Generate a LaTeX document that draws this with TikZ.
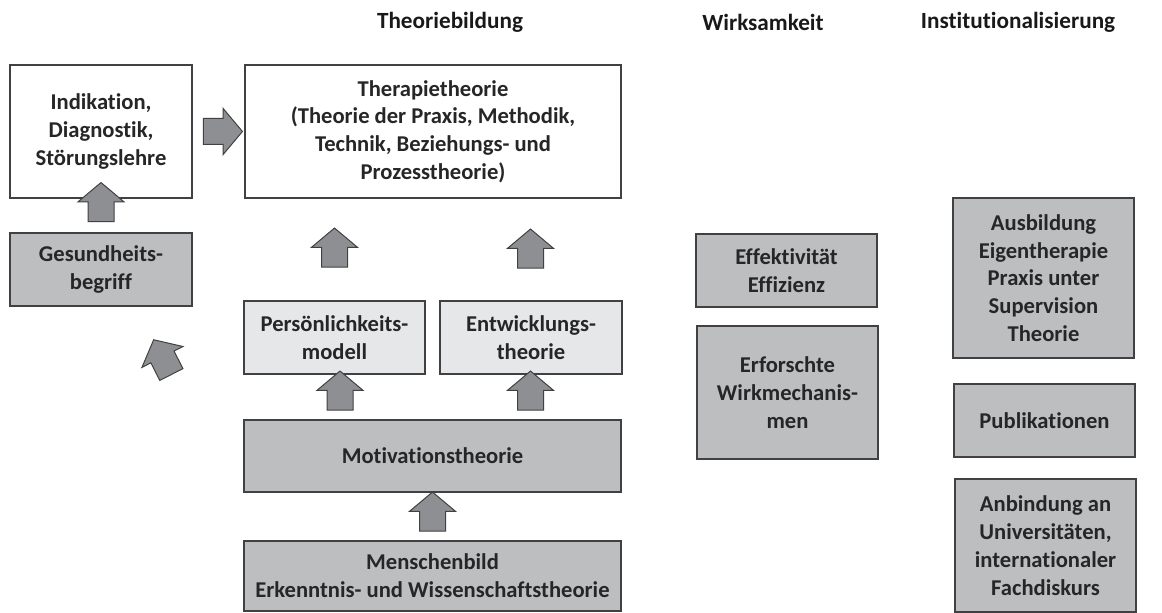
\documentclass[tikz,border=0pt]{standalone}
\usepackage{fontspec}
\setmainfont{Carlito}[Ligatures=NoCommon]
\usetikzlibrary{shapes.arrows}
\definecolor{boxdark}{RGB}{189,190,192}
\definecolor{boxlight}{RGB}{230,231,232}
\definecolor{arrowfill}{RGB}{142,143,146}
\definecolor{rim}{RGB}{65,64,66}
\begin{document}
\begin{tikzpicture}[x=0.5pt,y=-0.5pt]
	\tikzset{
		box/.style={draw=rim, line width=0.6pt, align=center, inner sep=0pt,
			font=\fontsize{11.3}{13.9}\selectfont\bfseries, text=black!85},
		darkbox/.style={box, fill=boxdark},
		lightbox/.style={box, fill=boxlight},
		whitebox/.style={box, fill=white},
		blockarrow/.style={single arrow, draw=rim, fill=arrowfill, line width=0.5pt,
			inner xsep=0pt, inner ysep=6.25pt, minimum height=19.5pt,
			single arrow head extend=5pt, single arrow tip angle=100},
		heading/.style={font=\fontsize{11.6}{14}\selectfont\bfseries, text=black!90}
	}
	\useasboundingbox (0,0) rectangle (1162,613);
	% column headings
	\node[heading] (hTheorie) at (450,22) {Theoriebildung};
	\node[heading] (hWirk) at (763,22) {Wirksamkeit};
	\node[heading] (hInst) at (1018,22) {Institutionalisierung};
	% left column
	\node[whitebox, minimum width=91pt, minimum height=66.5pt] (indikation) at (101,131.5)
		{Indikation,\\Diagnostik,\\Störungslehre};
	\node[darkbox, minimum width=91pt, minimum height=36.5pt] (gesund) at (101,269.5)
		{Gesundheits-\\begriff};
	% theory column
	\node[whitebox, minimum width=188pt, minimum height=66.5pt] (therapie) at (433,131.5)
		{Therapietheorie\\(Theorie der Praxis, Methodik,\\Technik, Beziehungs- und\\Prozesstheorie)};
	\node[lightbox, minimum width=90.5pt, minimum height=36.5pt] (persoen) at (334.5,337.5)
		{Persönlichkeits-\\modell};
	\node[lightbox, minimum width=91pt, minimum height=36.5pt] (entw) at (531,337.5)
		{Entwicklungs-\\theorie};
	\node[darkbox, minimum width=188.5pt, minimum height=36pt] (motiv) at (432.5,456)
		{Motivationstheorie};
	\node[darkbox, minimum width=188.5pt, minimum height=35pt] (mensch) at (432.5,576)
		{Menschenbild\\Erkenntnis- und Wissenschaftstheorie};
	% efficacy column
	\node[darkbox, minimum width=90.5pt, minimum height=36.5pt] (effekt) at (786.5,270.5)
		{Effektivität\\Effizienz};
	\node[darkbox, minimum width=90.5pt, minimum height=66.5pt] (erforscht) at (787.5,392.5)
		{Erforschte\\Wirkmechanis-\\men};
	% institution column
	\node[darkbox, minimum width=90.5pt, minimum height=80pt] (ausbildung) at (1043.5,278)
		{Ausbildung\\Eigentherapie\\Praxis unter\\Supervision\\Theorie};
	\node[darkbox, minimum width=90.5pt, minimum height=36.5pt] (publik) at (1044.5,420.5)
		{Publikationen};
	\node[darkbox, minimum width=90.5pt, minimum height=66.5pt] (anbindung) at (1045.5,545.5)
		{Anbindung an\\Universitäten,\\internationaler\\Fachdiskurs};
	% block arrows
	\node[blockarrow, rotate=90] (upGes) at (101,207.5) {};
	\node[blockarrow] (toTher) at (217.5,131.5) {};
	\node[blockarrow, rotate=90] (upPers) at (334.5,253) {};
	\node[blockarrow, rotate=90] (upEntw) at (530.5,254) {};
	\node[blockarrow, rotate=90] (upMotA) at (340,396) {};
	\node[blockarrow, rotate=90] (upMotB) at (530.5,396) {};
	\node[blockarrow, rotate=90] (upMensch) at (432.5,517) {};
	\node[blockarrow, rotate=117] (diag) at (165,362) {};
\end{tikzpicture}
\end{document}
